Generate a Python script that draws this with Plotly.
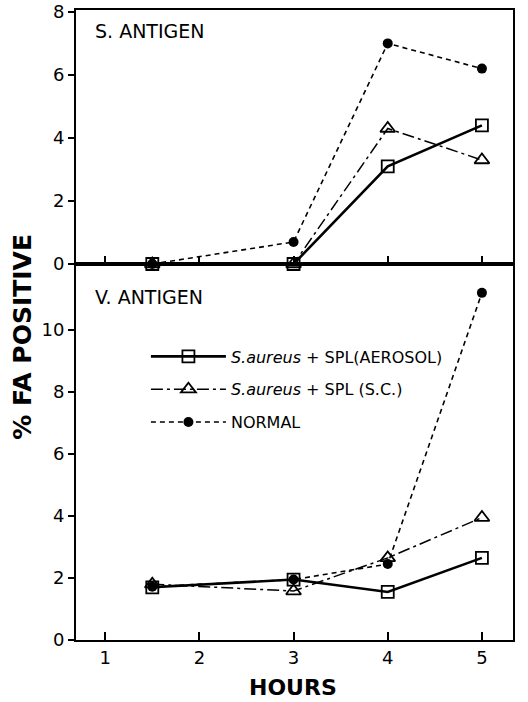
import plotly.graph_objects as go

hours = [1.5, 3, 4, 5]

# S. antigen panel
s_aerosol = [0.0, 0.0, 3.1, 4.4]
s_sc = [0.0, 0.0, 4.3, 3.3]
s_normal = [0.0, 0.7, 7.0, 6.2]

# V. antigen panel
v_aerosol = [1.7, 1.95, 1.55, 2.65]
v_sc = [1.8, 1.58, 2.65, 3.95]
v_normal = [1.72, 1.95, 2.45, 11.2]

names = ["<i>S.aureus</i> + SPL(AEROSOL)", "<i>S.aureus</i> + SPL (S.C.)", "NORMAL"]
x_ticks = [1, 2, 3, 4, 5]
s_ticks = [0, 2, 4, 6, 8]
v_ticks = [0, 2, 4, 6, 8, 10]

styles = [
    dict(line=dict(color="black", width=2.6, dash="solid"),
         marker=dict(symbol="square-open", size=12, color="black", line=dict(width=1.8))),
    dict(line=dict(color="black", width=1.5, dash="12px,4px,3px,4px"),
         marker=dict(symbol="triangle-up-open", size=13, color="black", line=dict(width=1.8))),
    dict(line=dict(color="black", width=1.6, dash="5px,4px"),
         marker=dict(symbol="circle", size=10, color="black")),
]

fig = go.Figure()
for i, ys in enumerate([s_aerosol, s_sc, s_normal]):
    fig.add_trace(go.Scatter(x=hours, y=ys, mode="lines+markers", xaxis="x2", yaxis="y2",
                             showlegend=False, cliponaxis=False, **styles[i]))
for i, ys in enumerate([v_aerosol, v_sc, v_normal]):
    fig.add_trace(go.Scatter(x=hours, y=ys, mode="lines+markers", xaxis="x", yaxis="y",
                             name=names[i], legendgroup=f"g{i}", showlegend=True,
                             cliponaxis=False, **styles[i]))

tickfont = dict(family="DejaVu Sans", size=18, color="black")
common_x = dict(range=[0.69, 5.33], tickvals=x_ticks, showgrid=False, zeroline=False,
                showline=True, linecolor="black", linewidth=2, mirror=True, automargin=False,
                ticks="inside", ticklen=8, tickwidth=1.5, tickcolor="black", tickfont=tickfont)
common_y = dict(showgrid=False, zeroline=False, showline=True, linecolor="black", linewidth=2,
                mirror=True, automargin=False, ticks="outside", ticklen=6, tickwidth=1.5,
                tickcolor="black", tickfont=tickfont)

fig.update_layout(
    width=528, height=702,
    margin=dict(l=76, r=15, t=10, b=62, autoexpand=False),
    paper_bgcolor="white", plot_bgcolor="white",
    xaxis=dict(domain=[0, 1], anchor="y", ticktext=[str(t) for t in x_ticks], **common_x),
    yaxis=dict(domain=[0, 0.5968], anchor="x", range=[0, 12.13], tickvals=v_ticks, **common_y),
    xaxis2=dict(domain=[0, 1], anchor="y2", showticklabels=False, **common_x),
    yaxis2=dict(domain=[0.5968, 1], anchor="x2", range=[0, 8.06], tickvals=s_ticks, **common_y),
    legend=dict(x=0.16, y=0.477, xanchor="left", yanchor="top", bgcolor="rgba(0,0,0,0)",
                font=dict(family="DejaVu Sans", size=16, color="black"),
                itemwidth=75, tracegroupgap=9),
    annotations=[
        dict(text="S. ANTIGEN", x=0.04, y=0.966, xref="paper", yref="paper", showarrow=False,
             xanchor="left", yanchor="middle", font=dict(family="DejaVu Sans", size=19, color="black")),
        dict(text="V. ANTIGEN", x=0.04, y=0.545, xref="paper", yref="paper", showarrow=False,
             xanchor="left", yanchor="middle", font=dict(family="DejaVu Sans", size=19, color="black")),
        dict(text="<b>% FA POSITIVE</b>", x=-0.122, y=0.481, xref="paper", yref="paper",
             showarrow=False, textangle=-90, xanchor="center", yanchor="middle",
             font=dict(family="DejaVu Sans", size=25, color="black")),
        dict(text="<b>HOURS</b>", x=0.497, y=-0.076, xref="paper", yref="paper",
             showarrow=False, xanchor="center", yanchor="middle",
             font=dict(family="DejaVu Sans", size=22, color="black")),
    ],
)

fig.write_html("out.html", config={"displayModeBar": False},
               post_script="document.body.style.margin='0';document.body.style.overflow='hidden';")
